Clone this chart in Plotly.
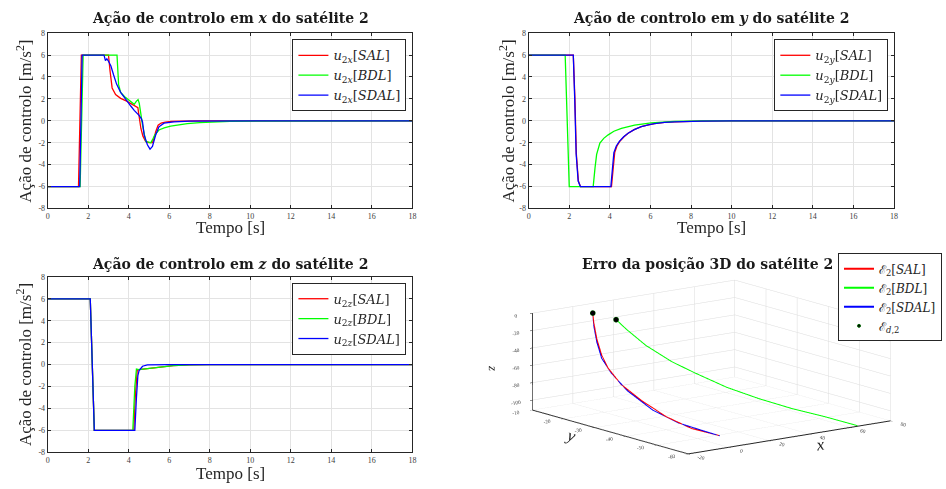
import plotly.graph_objects as go

# ---------------- data ----------------
# x-control of satellite 2
ux_sal_t = [0, 1.52, 1.66, 3.0, 3.08, 3.18, 3.35, 3.6, 3.9, 4.1, 4.35, 4.45, 4.52, 4.6, 4.7, 4.84, 5.0, 5.17, 5.25, 5.33, 5.45, 5.6, 5.8, 6.1, 6.6, 7.5, 18]
ux_sal_v = [-6, -6, 6, 6, 4.5, 3.0, 2.4, 2.05, 1.8, 1.6, 1.35, 1.2, 0.3, -0.7, -1.4, -1.9, -2.0, -2.0, -1.6, -1.0, -0.4, -0.2, -0.12, -0.06, -0.03, -0.01, 0]
ux_bdl_t = [0, 1.6, 1.75, 3.42, 3.5, 3.6, 3.8, 3.94, 4.1, 4.27, 4.38, 4.46, 4.52, 4.6, 4.68, 4.84, 5.0, 5.09, 5.18, 5.28, 5.49, 5.75, 6.07, 6.5, 6.89, 7.5, 8.03, 9, 18]
ux_bdl_v = [-6, -6, 6, 6, 3.3, 2.6, 2.2, 2.0, 1.75, 1.5, 1.8, 1.93, 1.6, 0.6, -0.4, -1.89, -2.0, -2.0, -1.7, -1.3, -0.84, -0.65, -0.49, -0.35, -0.25, -0.16, -0.1, -0.04, 0]
ux_sdal_t = [0, 1.58, 1.7, 2.78, 2.85, 2.92, 2.98, 3.12, 3.25, 3.4, 3.6, 3.8, 3.94, 4.1, 4.27, 4.51, 4.62, 4.68, 4.76, 4.92, 5.05, 5.17, 5.33, 5.49, 5.74, 6.23, 7, 18]
ux_sdal_v = [-6, -6, 6, 6, 5.5, 5.65, 5.5, 5.0, 4.2, 3.35, 2.6, 2.15, 1.75, 1.35, 0.95, 0.5, 0.2, -0.1, -1.29, -2.19, -2.58, -2.34, -1.29, -0.55, -0.21, -0.1, -0.02, 0]

# y-control of satellite 2
uy_sal_t = [0, 2.2, 2.28, 2.35, 2.45, 2.55, 4.08, 4.15, 4.24, 4.35, 4.49, 4.7, 4.9, 5.2, 5.55, 5.9, 6.2, 6.7, 7.18, 8.5, 10, 18]
uy_sal_v = [6, 6, 2, -3, -5.5, -6, -6, -4.5, -2.9, -2.3, -1.88, -1.45, -1.13, -0.8, -0.54, -0.37, -0.26, -0.15, -0.09, -0.02, 0, 0]
uy_bdl_t = [0, 1.8, 2.0, 3.18, 3.27, 3.35, 3.51, 3.7, 3.92, 4.2, 4.57, 5.22, 6.04, 7.18, 8.5, 18]
uy_bdl_v = [6, 6, -6, -6, -4.3, -3.07, -2.03, -1.6, -1.28, -0.95, -0.69, -0.39, -0.18, -0.06, -0.01, 0]
uy_sdal_t = [0, 2.2, 2.27, 2.34, 2.44, 2.55, 4.05, 4.12, 4.2, 4.32, 4.47, 4.68, 4.9, 5.2, 5.55, 5.9, 6.2, 6.7, 7.18, 8.5, 10, 18]
uy_sdal_v = [6, 6, 2, -3, -5.5, -6, -6, -4.5, -2.9, -2.3, -1.88, -1.45, -1.13, -0.8, -0.54, -0.37, -0.26, -0.15, -0.09, -0.02, 0, 0]

# z-control of satellite 2
uz_sal_t = [0, 2.1, 2.3, 4.25, 4.32, 4.42, 4.5, 4.76, 5.2, 5.57, 6.2, 7, 8, 18]
uz_sal_v = [6, 6, -6, -6, -3, -0.5, -0.45, -0.39, -0.28, -0.18, -0.09, -0.03, 0, 0]
uz_bdl_t = [0, 2.1, 2.3, 4.2, 4.3, 4.38, 4.5, 4.76, 5.2, 5.57, 6.2, 7, 8, 18]
uz_bdl_v = [6, 6, -6, -6, -2, -0.4, -0.45, -0.39, -0.28, -0.18, -0.09, -0.03, 0, 0]
uz_sdal_t = [0, 2.1, 2.3, 4.3, 4.38, 4.45, 4.51, 4.68, 4.92, 5.3, 6, 18]
uz_sdal_v = [6, 6, -6, -6, -3, -1.0, -0.54, -0.15, -0.03, -0.02, -0.01, 0]

# 3D position error of satellite 2
e_sal_x = [-1, -0.9, -0.65, -0.24, 0.3, 1.4, 3.1, 5.2, 7.4, 9.7]
e_sal_y = [-17, -17.3, -18.1, -19.4, -21.1, -24.5, -30, -36.5, -43.3, -50.5]
e_sal_z = [0, -11.1, -28.9, -46.4, -59.7, -75.3, -89.1, -101.8, -109.6, -111.1]
e_bdl_x = [-1, 1.8, 7, 13.9, 20.1, 28.8, 37.4, 46.1, 54.8, 63.7]
e_bdl_y = [-24.5, -26, -28.9, -32.7, -36.1, -40.8, -45.6, -50.3, -55.1, -60]
e_bdl_z = [0, -10.7, -28.4, -45.8, -57.7, -73, -84.5, -94.2, -101.9, -110.9]
e_sdal_x = [-1, -0.9, -0.65, -0.24, 0.6, 1.95, 4.1, 6.3, 8.5, 9.8]
e_sdal_y = [-17, -17.3, -18.1, -19.4, -21.9, -26.2, -33, -39.9, -46.7, -50.8]
e_sdal_z = [0, -14.8, -32.7, -50.1, -64.6, -81.3, -97.6, -106.3, -109.6, -111.3]
ed_x = [-1, -1]
ed_y = [-17, -24.5]
ed_z = [0, 0]

time_ticks = [0, 2, 4, 6, 8, 10, 12, 14, 16, 18]
u_ticks = [-8, -6, -4, -2, 0, 2, 4, 6, 8]
x3_ticks = [-20, 0, 20, 40, 60, 80]
y3_ticks = [-60, -50, -40, -30, -20, -10]
z3_ticks = [-100, -80, -60, -40, -20, 0]

labels = ["SAL", "BDL", "SDAL"]
colors = ["#ff0000", "#00ff00", "#0000ff"]

# ---------------- figure ----------------
W, H = 946, 489
SERIF = "Liberation Serif"
DSERIF = "DejaVu Serif"
fig = go.Figure()

def px_x(p):
    return p / W

def px_y(p):
    return 1 - p / H

series2d = [
    ("x", "y", "legend", "x",
     [(ux_sal_t, ux_sal_v), (ux_bdl_t, ux_bdl_v), (ux_sdal_t, ux_sdal_v)]),
    ("x2", "y2", "legend2", "y",
     [(uy_sal_t, uy_sal_v), (uy_bdl_t, uy_bdl_v), (uy_sdal_t, uy_sdal_v)]),
    ("x3", "y3", "legend3", "z",
     [(uz_sal_t, uz_sal_v), (uz_bdl_t, uz_bdl_v), (uz_sdal_t, uz_sdal_v)]),
]
for xa, ya, lg, comp, data in series2d:
    for (t, v), lab, col in zip(data, labels, colors):
        fig.add_trace(go.Scatter(
            x=t, y=v, mode="lines", line=dict(color=col, width=1.3),
            name=f"<i>u</i><sub>2<i>{comp}</i></sub>[<i>{lab}</i>]",
            xaxis=xa, yaxis=ya, legend=lg))

for xs, ys, zs, lab, col in [(e_sal_x, e_sal_y, e_sal_z, "SAL", colors[0]),
                             (e_bdl_x, e_bdl_y, e_bdl_z, "BDL", colors[1]),
                             (e_sdal_x, e_sdal_y, e_sdal_z, "SDAL", colors[2])]:
    fig.add_trace(go.Scatter3d(
        x=xs, y=ys, z=zs, mode="lines", line=dict(color=col, width=2),
        name=f"ℰ<sub>2</sub>[<i>{lab}</i>]", legend="legend4", scene="scene"))
fig.add_trace(go.Scatter3d(
    x=ed_x, y=ed_y, z=ed_z, mode="markers",
    marker=dict(color="black", size=3, line=dict(color="#006400", width=1)),
    name="ℰ<sub><i>d</i>,2</sub>", legend="legend4", scene="scene"))

axis_common = dict(
    showline=True, linecolor="#262626", linewidth=1, mirror="ticks",
    ticks="inside", ticklen=3, tickcolor="#262626",
    showgrid=True, gridcolor="#e3e3e3", gridwidth=1, zeroline=False,
    tickfont=dict(family=SERIF, size=8, color="#404040"),
)
xd_left = [px_x(46), px_x(413)]
xd_right = [px_x(530), px_x(897.7)]
yd_top = [px_y(208.3), px_y(29.7)]
yd_bot = [px_y(456.7), px_y(278)]

def xaxis(dom, anchor):
    return dict(axis_common, domain=dom, anchor=anchor, range=[0, 18],
                tickvals=time_ticks, ticktext=[str(v) for v in time_ticks])

def yaxis(dom, anchor):
    return dict(axis_common, domain=dom, anchor=anchor, range=[-8, 8],
                tickvals=u_ticks, ticktext=[str(v) for v in u_ticks])

ax3 = dict(showbackground=False, showgrid=True, gridcolor="#dcdcdc", gridwidth=1,
           showline=True, linecolor="#262626", linewidth=2, zeroline=False,
           showspikes=False, ticks="outside", ticklen=3, tickcolor="#262626",
           tickfont=dict(family=SERIF, size=8, color="#404040"))

EYE = 1.9
SC = 2.47
fig.update_layout(
    width=W, height=H, margin=dict(l=0, r=0, t=0, b=0),
    paper_bgcolor="white", plot_bgcolor="white",
    font=dict(family=SERIF, color="#262626"),
    xaxis=xaxis(xd_left, "y"), yaxis=yaxis(yd_top, "x"),
    xaxis2=xaxis(xd_right, "y2"), yaxis2=yaxis(yd_top, "x2"),
    xaxis3=xaxis(xd_left, "y3"), yaxis3=yaxis(yd_bot, "x3"),
    scene=dict(
        domain=dict(x=[0.5145, 0.9945], y=[0.029, 0.459]),
        xaxis=dict(ax3, range=[-20, 80], tickvals=x3_ticks,
                   ticktext=[str(v) for v in x3_ticks],
                   title=dict(text="<i>x</i>", font=dict(family=SERIF, size=17))),
        yaxis=dict(ax3, range=[-60, -10], tickvals=y3_ticks,
                   ticktext=[str(v) for v in y3_ticks],
                   title=dict(text="<i>y</i>", font=dict(family=SERIF, size=17))),
        zaxis=dict(ax3, range=[-111.5, 0], tickvals=z3_ticks,
                   ticktext=[str(v) for v in z3_ticks],
                   title=dict(text="<i>z</i>", font=dict(family=SERIF, size=13))),
        aspectmode="manual", aspectratio=dict(x=1 * SC, y=1.01 * SC, z=0.39 * SC),
        camera=dict(projection=dict(type="orthographic"),
                    eye=dict(x=-0.592 * EYE, y=-0.777 * EYE, z=0.2145 * EYE),
                    center=dict(x=0, y=0, z=0), up=dict(x=0, y=0, z=1)),
    ),
    showlegend=True,
)

leg_common = dict(bgcolor="white", bordercolor="#262626", borderwidth=1,
                  font=dict(family=DSERIF, size=13, color="#262626"),
                  xanchor="right", yanchor="top", tracegroupgap=0,
                  itemwidth=30)
fig.update_layout(
    legend=dict(leg_common, x=px_x(407), y=px_y(36)),
    legend2=dict(leg_common, x=px_x(892), y=px_y(36)),
    legend3=dict(leg_common, x=px_x(407), y=px_y(284)),
    legend4=dict(leg_common, x=px_x(946), y=px_y(254),
                 font=dict(family=DSERIF, size=12, color="#262626")),
)

title_font = dict(family=DSERIF, size=14, color="#1a1a1a")
ann = [
    ("<b>Ação de controlo em <i>x</i> do satélite 2</b>", 229.5, 14),
    ("<b>Ação de controlo em <i>y</i> do satélite 2</b>", 714, 14),
    ("<b>Ação de controlo em <i>z</i> do satélite 2</b>", 229.5, 265),
    ("<b>Erro da posição 3D do satélite 2</b>", 710, 265),
]
for text, cx, cy in ann:
    fig.add_annotation(text=text, x=px_x(cx), y=px_y(cy), xref="paper", yref="paper",
                       showarrow=False, font=title_font, xanchor="center", yanchor="middle")

lab_font = dict(family=SERIF, size=17, color="#262626")
for cx, cy in [(229.5, 228), (714, 228), (229.5, 478)]:
    fig.add_annotation(text="Tempo [s]", x=px_x(cx), y=px_y(cy), xref="paper", yref="paper",
                       showarrow=False, font=lab_font, xanchor="center", yanchor="middle")
for cx, cy in [(22, 119), (508, 119), (22, 367)]:
    fig.add_annotation(text="Ação de controlo [m/s<sup>2</sup>]", x=px_x(cx), y=px_y(cy),
                       xref="paper", yref="paper", showarrow=False, font=lab_font,
                       textangle=-90, xanchor="center", yanchor="middle")

fig.write_html("out.html")
